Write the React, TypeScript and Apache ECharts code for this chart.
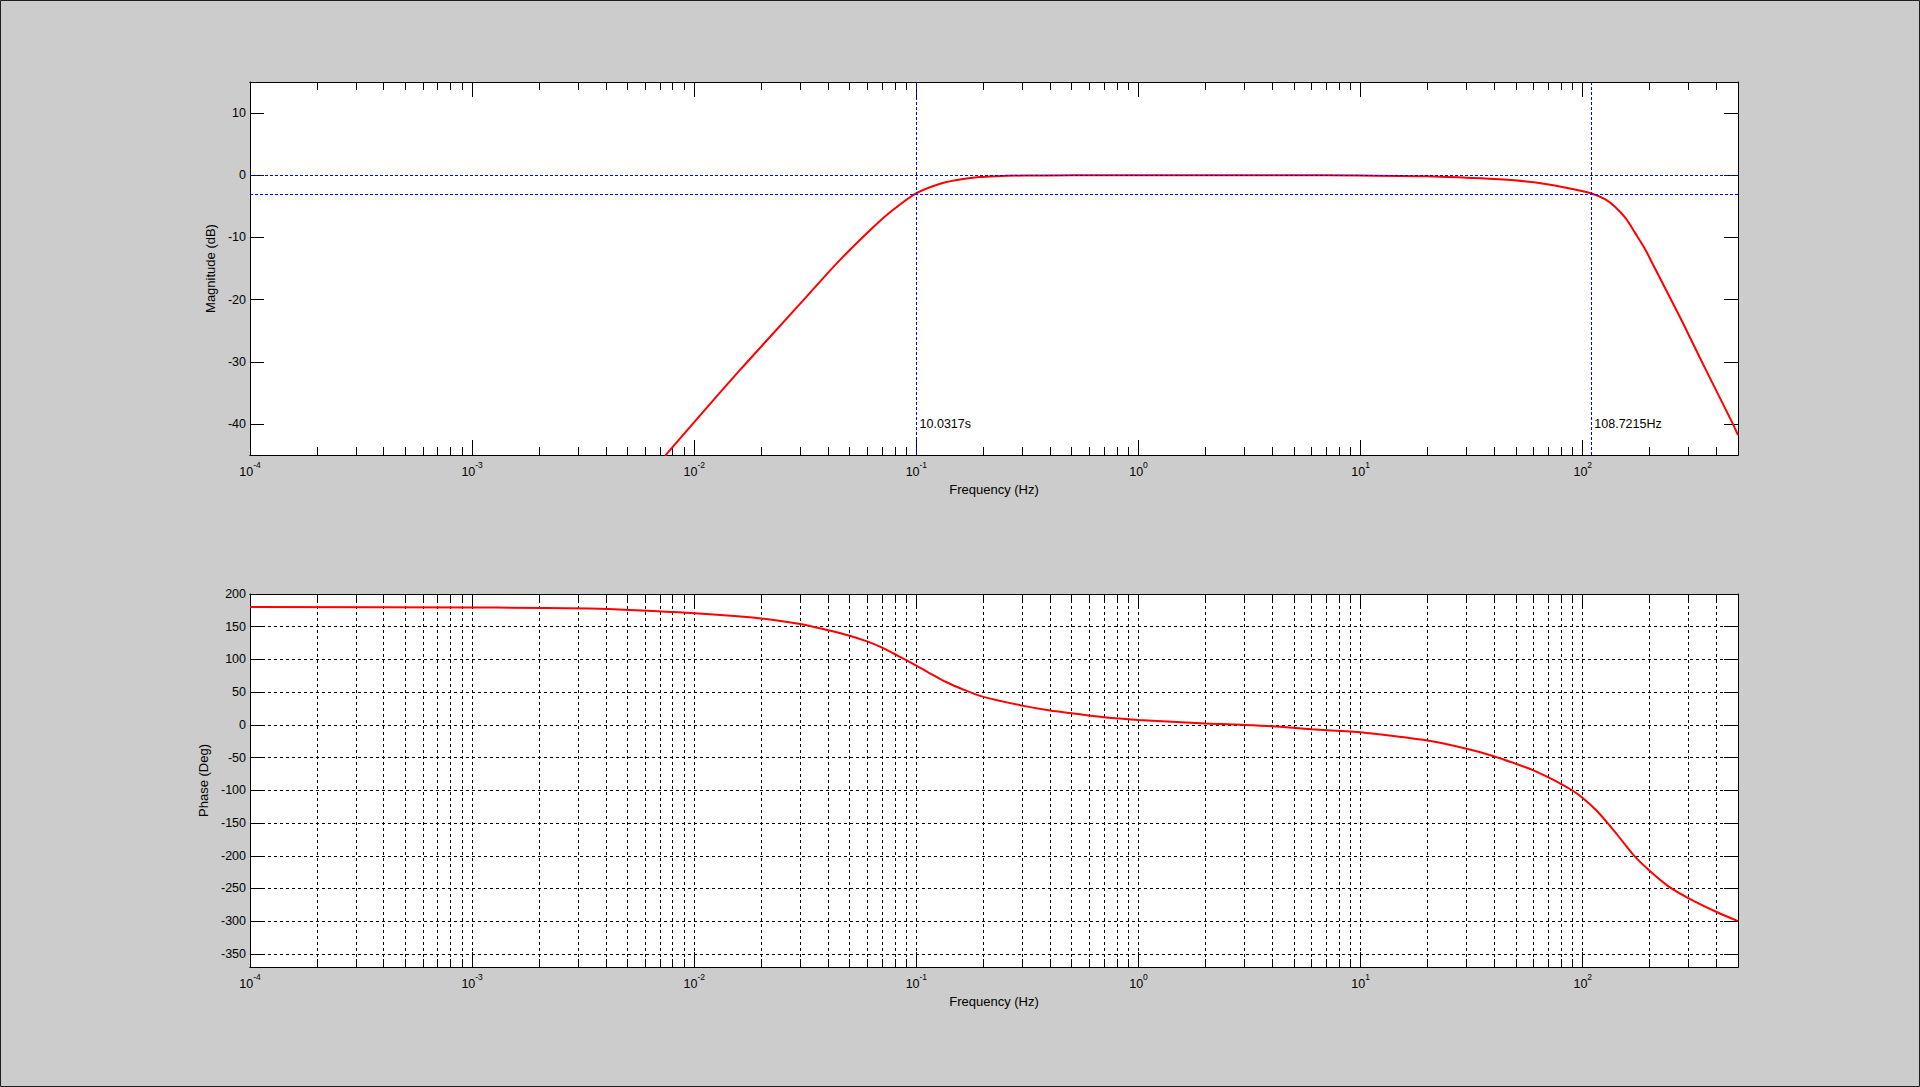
import React, { useEffect, useRef } from 'react';
import * as echarts from 'echarts';

const FONT = 'Arial, "Liberation Sans", Helvetica, sans-serif';

// magnitude response (Hz, dB)
const magFreq = [
  0.0074, 0.01, 0.016, 0.0226, 0.0319, 0.0451, 0.0637, 0.0783, 0.0997, 0.127, 0.15, 0.192, 0.229, 0.3, 0.5, 1, 5,
  10, 20, 30, 42, 59, 84, 108.7, 126.5, 140, 156, 172.6, 192, 206, 236, 281, 333, 396, 471, 500,
];
const magDb = [
  -45.1, -39.7, -31.4, -25.5, -19.6, -13.7, -8.4, -5.6, -2.9, -1.4, -0.8, -0.3, -0.15, -0.05, -0.01, 0, 0,
  -0.05, -0.15, -0.4, -0.65, -1.1, -2.0, -2.9, -3.9, -5.1, -6.9, -9.35, -12.05, -14.2, -18.3, -23.6, -29.0, -34.4,
  -39.8, -41.8,
];

// phase response (Hz, deg)
const phaseFreq = [
  0.0001, 0.001, 0.00337, 0.0085, 0.02, 0.03, 0.0396, 0.05, 0.06, 0.0697, 0.0797, 0.09, 0.1, 0.113, 0.136, 0.164,
  0.2, 0.3, 0.4, 0.5, 0.7, 1, 2, 3, 4, 6, 9.05, 10, 20, 30, 40, 50, 60, 70.5, 80.4, 90.5, 100, 115, 133, 153.5,
  171, 200, 244, 300, 401, 500,
];
const phaseDeg = [
  180, 179.3, 178, 172, 162.7, 154, 145, 136.3, 127.6, 118.5, 108.3, 99, 90.5, 80.3, 65.5, 53.5,
  42.8, 29.4, 21.8, 17.7, 11.6, 7.6, 2, 0, -2, -6.6, -10.2, -11.2, -23.9, -36.5, -48.2, -59.4, -69.5, -80.7, -90.9,
  -101, -111.7, -130.5, -154.8, -181, -200.5, -223, -247.2, -265, -286, -300,
];

const decades = [-4, -3, -2, -1, 0, 1, 2];
const minorMult = [2, 3, 4, 5, 6, 7, 8, 9];
const fMax = 500;
const magTicks = [-40, -30, -20, -10, 0, 10];
const phaseTicks = [-350, -300, -250, -200, -150, -100, -50, 0, 50, 100, 150, 200];
const magRange = [-45, 15];
const phaseRange = [-370, 200];

const refDb = [0, -3];
const lowCutPeriod = 10.0317; // s
const highCutHz = 108.7215;
const labelDb = -40;

const xMax = Math.log10(fMax);
const minorTicks = decades.flatMap((d) => minorMult.map((m) => d + Math.log10(m))).filter((v) => v <= xMax);

const BLACK = '#000';
const TICK_FS = 12.5;
const NAME_FS = 13;

function xAxisDef(gridIndex: number, position: 'top' | 'bottom', ticks: number[], len: number, extra: any = {}) {
  return {
    type: 'value',
    gridIndex,
    position,
    min: -4,
    max: xMax,
    axisLine: { show: true, onZero: false, lineStyle: { color: BLACK, width: 1 } },
    axisTick: { show: true, inside: true, length: len, customValues: ticks, lineStyle: { color: BLACK, width: 1 } },
    axisLabel: { show: false },
    splitLine: { show: false },
    ...extra,
  };
}

function yAxisDef(gridIndex: number, position: 'left' | 'right', range: number[], ticks: number[], extra: any = {}) {
  return {
    type: 'value',
    gridIndex,
    position,
    min: range[0],
    max: range[1],
    axisLine: { show: true, onZero: false, lineStyle: { color: BLACK, width: 1 } },
    axisTick: { show: true, inside: true, length: 14, customValues: ticks, lineStyle: { color: BLACK, width: 1 } },
    axisLabel: { show: false },
    splitLine: { show: false },
    ...extra,
  };
}

const gridLine = { show: true, lineStyle: { color: BLACK, width: 1, type: [3, 3] } };

const xLabel = {
  show: true,
  customValues: decades,
  margin: 5,
  showMinLabel: true,
  showMaxLabel: true,
  formatter: (v: number) => `{b|10}{e|${Math.round(v)}}`,
  rich: {
    b: { fontSize: TICK_FS, fontFamily: FONT, color: BLACK },
    e: { fontSize: 8.5, fontFamily: FONT, color: BLACK, padding: [0, 0, 14, 0] },
  },
};

const nameStyle = { fontSize: NAME_FS, fontFamily: FONT, color: BLACK };

function yLabel(ticks: number[]) {
  return { show: true, customValues: ticks, margin: 4, fontSize: TICK_FS, fontFamily: FONT, color: BLACK };
}

const App: React.FC = () => {
  const elRef = useRef<HTMLDivElement | null>(null);

  useEffect(() => {
    document.body.style.margin = '0';
    if (!elRef.current) return;
    const chart = echarts.init(elRef.current, undefined, { renderer: 'svg' });

    const magData = magFreq.map((f, i) => [Math.log10(f), magDb[i]]);
    const phaseData = phaseFreq.map((f, i) => [Math.log10(f), phaseDeg[i]]);
    const lowCutX = Math.log10(1 / lowCutPeriod);
    const highCutX = Math.log10(highCutHz);

    const opt: any = {
      animation: false,
      backgroundColor: '#cccccc',
      textStyle: { fontFamily: FONT },
      grid: [
        { left: 250, top: 82, width: 1488, height: 373, show: true, backgroundColor: '#fff', borderWidth: 0, containLabel: false, outerBoundsMode: 'none' },
        { left: 250, top: 594, width: 1488, height: 373, show: true, backgroundColor: '#fff', borderWidth: 0, containLabel: false, outerBoundsMode: 'none' },
      ],
      xAxis: [
        xAxisDef(0, 'bottom', decades, 15, {
          axisLabel: xLabel,
          name: 'Frequency (Hz)',
          nameLocation: 'middle',
          nameGap: 28,
          nameTextStyle: nameStyle,
        }),
        xAxisDef(0, 'bottom', minorTicks, 8),
        xAxisDef(0, 'top', decades, 15),
        xAxisDef(0, 'top', minorTicks, 8),
        xAxisDef(1, 'bottom', decades, 15, {
          axisLabel: xLabel,
          splitLine: gridLine,
          name: 'Frequency (Hz)',
          nameLocation: 'middle',
          nameGap: 27.5,
          nameTextStyle: nameStyle,
        }),
        xAxisDef(1, 'bottom', minorTicks, 8, { splitLine: gridLine }),
        xAxisDef(1, 'top', decades, 15),
        xAxisDef(1, 'top', minorTicks, 8),
      ],
      yAxis: [
        yAxisDef(0, 'left', magRange, magTicks, {
          axisLabel: yLabel(magTicks),
          name: 'Magnitude (dB)',
          nameLocation: 'middle',
          nameRotate: 90,
          nameGap: 30,
          nameTextStyle: nameStyle,
        }),
        yAxisDef(0, 'right', magRange, magTicks),
        yAxisDef(1, 'left', phaseRange, phaseTicks, {
          axisLabel: yLabel(phaseTicks),
          splitLine: gridLine,
          name: 'Phase (Deg)',
          nameLocation: 'middle',
          nameRotate: 90,
          nameGap: 37,
          nameTextStyle: nameStyle,
        }),
        yAxisDef(1, 'right', phaseRange, phaseTicks),
      ],
      series: [
        {
          name: 'cutoffs',
          type: 'scatter',
          xAxisIndex: 0,
          yAxisIndex: 0,
          symbol: 'circle',
          symbolSize: 1,
          itemStyle: { color: 'rgba(0,0,0,0)' },
          silent: true,
          data: [
            { name: `${lowCutPeriod}s`, value: [lowCutX, labelDb] },
            { name: `${highCutHz}Hz`, value: [highCutX, labelDb] },
          ],
          label: {
            show: true,
            position: 'right',
            distance: 3,
            formatter: '{b}',
            fontSize: TICK_FS,
            fontFamily: FONT,
            color: BLACK,
            opacity: 1,
          },
          markLine: {
            silent: true,
            symbol: ['none', 'none'],
            label: { show: false },
            lineStyle: { color: '#0000ff', width: 1, type: [3, 2] },
            data: [
              ...refDb.map((v) => ({ yAxis: v })),
              { xAxis: lowCutX },
              { xAxis: highCutX },
            ],
          },
        },
        {
          name: 'Magnitude',
          type: 'line',
          xAxisIndex: 0,
          yAxisIndex: 0,
          data: magData,
          smooth: 0.3,
          showSymbol: false,
          clip: true,
          lineStyle: { color: '#ff0000', width: 2 },
        },
        {
          name: 'Phase',
          type: 'line',
          xAxisIndex: 4,
          yAxisIndex: 2,
          data: phaseData,
          smooth: 0.3,
          showSymbol: false,
          clip: true,
          lineStyle: { color: '#ff0000', width: 2 },
        },
      ],
      graphic: [
        {
          type: 'rect',
          silent: true,
          z: 100,
          shape: { x: 0.5, y: 0.5, width: 1919, height: 1086 },
          style: { fill: 'none', stroke: '#1e1e1e', lineWidth: 1 },
        },
      ],
    };

    chart.setOption(opt, true);
    return () => chart.dispose();
  }, []);

  return <div ref={elRef} style={{ position: 'fixed', left: 0, top: 0, width: 1920, height: 1087 }} />;
};

export default App;
